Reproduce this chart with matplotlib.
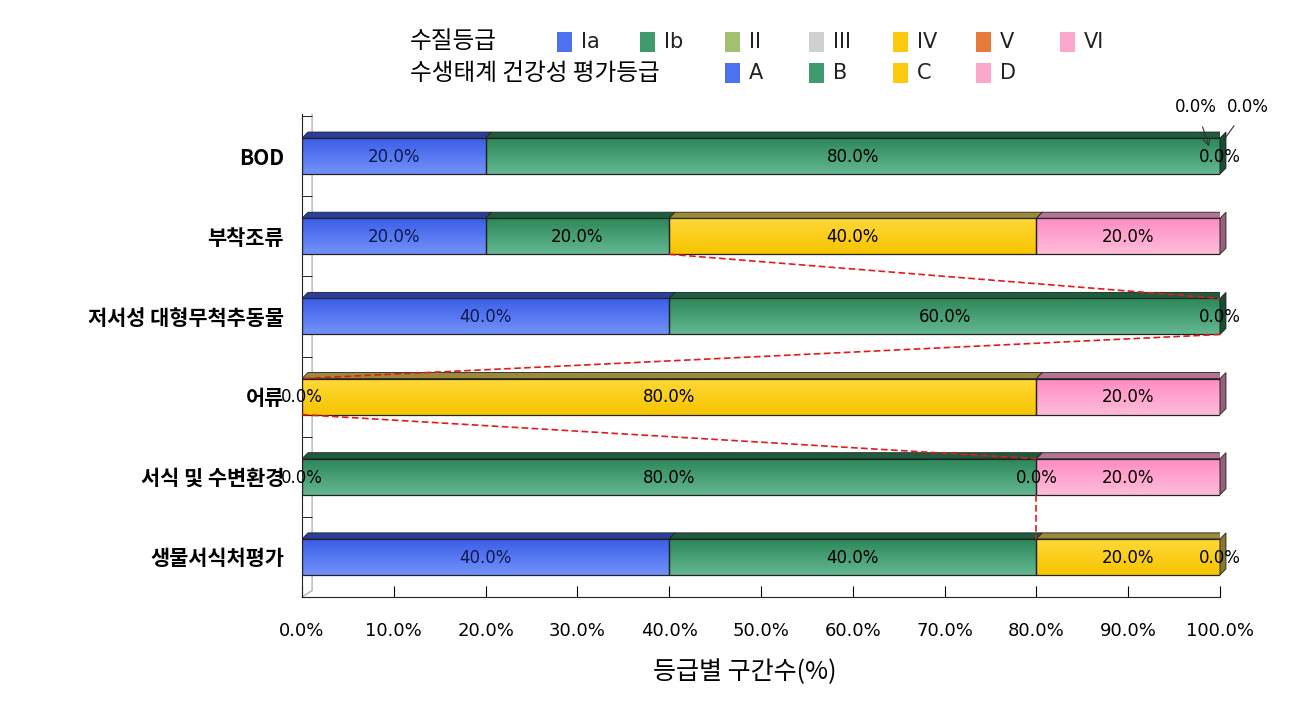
import numpy as np
import matplotlib.pyplot as plt
from matplotlib.patches import Polygon, Rectangle
from matplotlib.colors import LinearSegmentedColormap

plt.rcParams['font.family'] = ['Noto Sans CJK KR', 'DejaVu Sans']

W, H = 1313, 723

categories = ['BOD', '부착조류', '저서성 대형무척추동물', '어류', '서식 및 수변환경', '생물서식처평가']
# share of sections per grade (%): A/Ia, B/Ib, C/IV, D/VI
grade_a = [20, 20, 40, 0, 0, 40]
grade_b = [80, 20, 60, 0, 80, 40]
grade_c = [0, 40, 0, 80, 0, 20]
grade_d = [0, 20, 0, 20, 20, 0]
# zero-valued labels that the original shows: (row, series index)
zero_labels = [(0, 2), (2, 3), (3, 0), (4, 0), (4, 2), (5, 3)]

wq_grades = ['Ia', 'Ib', 'II', 'III', 'IV', 'V', 'VI']
eco_grades = ['A', 'B', 'C', 'D']

# gradient colours (top, bottom), top face, side face
styles = [
    ('#3a5ce6', '#7292fa', '#2a3f9c', '#22357f'),
    ('#2b8657', '#64b792', '#1d5c3c', '#184d32'),
    ('#ffd93a', '#f6c400', '#9c8a3a', '#8a7630'),
    ('#ff8cc2', '#ffbcda', '#b27396', '#955f7d'),
]
wq_colors = ['#4d72f0', '#3f9a6c', '#a3c070', '#cfcfcf', '#fcc810', '#e67a3a', '#fca8cc']
eco_colors = ['#4d72f0', '#3f9a6c', '#fcc810', '#fca8cc']
label_colors = ['#101850', 'black', 'black', 'black']

fig = plt.figure(figsize=(W / 100, H / 100), dpi=100)
ax = fig.add_axes([302 / W, 1 - 597 / H, 918 / W, 481 / H])
ax.set_xlim(0, 100)
ax.set_ylim(5.5, -0.5)

h = 0.45
dx, dy = 0.65, 0.075
series = np.array([grade_a, grade_b, grade_c, grade_d], dtype=float)
lefts = np.vstack([np.zeros(len(categories)), np.cumsum(series, axis=0)[:-1]])

# back wall
ax.plot([1.1, 1.1, 0], [-0.52, 5.42, 5.5], color='#b4b4b4', lw=1, clip_on=False, zorder=1)

for i in range(len(categories)):
    top = i - h / 2
    bot = i + h / 2
    for s in range(4):
        l, w = lefts[s, i], series[s, i]
        if w <= 0:
            continue
        c_top, c_bot, c_face, c_side = styles[s]
        cmap = LinearSegmentedColormap.from_list('g', [c_top, c_bot])
        grad = np.linspace(0, 1, 50).reshape(-1, 1)
        ax.imshow(grad, cmap=cmap, extent=(l, l + w, bot, top), aspect='auto',
                  origin='upper', zorder=2)
        ax.barh(i, w, left=l, height=h, facecolor='none', edgecolor='#222222', lw=0.9, zorder=3)
        ax.add_patch(Polygon([(l, top), (l + w, top), (l + w + dx, top - dy), (l + dx, top - dy)],
                             closed=True, facecolor=c_face, edgecolor='#222222', lw=0.6, zorder=3))
        ax.text(l + w / 2, i + 0.01, f'{w:.1f}%', ha='center', va='center',
                fontsize=12, color=label_colors[s], family='DejaVu Sans', zorder=5)
    # side face at the end of the bar
    last = max(s for s in range(4) if series[s, i] > 0)
    R = lefts[last, i] + series[last, i]
    ax.add_patch(Polygon([(R, top), (R + dx, top - dy), (R + dx, bot - dy), (R, bot)],
                         closed=True, facecolor=styles[last][3], edgecolor='#222222', lw=0.6,
                         zorder=3, clip_on=False))

for row, s in zero_labels:
    ax.text(lefts[s, row], row + 0.01, '0.0%', ha='center', va='center', fontsize=12,
            family='DejaVu Sans', zorder=5, clip_on=False)

# two more zero labels for BOD, drawn with leader arrows
ax.annotate('0.0%', xy=(98.8, -0.12), xytext=(97.4, -0.61), ha='center', va='center',
            fontsize=12, family='DejaVu Sans', annotation_clip=False,
            arrowprops=dict(arrowstyle='->', color='#333333', lw=0.8, shrinkA=6, shrinkB=0))
ax.annotate('0.0%', xy=(100.4, -0.2), xytext=(103.0, -0.61), ha='center', va='center',
            fontsize=12, family='DejaVu Sans', annotation_clip=False,
            arrowprops=dict(arrowstyle='-', color='#333333', lw=0.8, shrinkA=6, shrinkB=0))

# series lines following the end of grade B
edge_b = lefts[2]
for i in range(1, len(categories) - 1):
    ax.plot([edge_b[i], edge_b[i + 1]], [i + h / 2, i + 1 - h / 2], color='#e41a1a',
            lw=1.2, ls=(0, (4, 2)), zorder=4, clip_on=False)

ax.spines['top'].set_visible(False)
ax.spines['right'].set_visible(False)
ax.spines['left'].set_color('#222222')
ax.spines['bottom'].set_color('#222222')
ax.spines['left'].set_bounds(-0.52, 5.5)

ax.set_xticks(np.arange(0, 101, 10))
ax.set_xticklabels([f'{v:.1f}%' for v in np.arange(0, 101, 10)], fontsize=13, family='DejaVu Sans')
ax.tick_params(axis='x', direction='in', length=8, pad=18)
ax.set_yticks(range(len(categories)))
ax.set_yticklabels(categories, fontsize=15, fontweight='bold')
ax.tick_params(axis='y', length=0, pad=13)
ax.set_yticks(np.arange(-0.5, 5.6, 1), minor=True)
ax.tick_params(axis='y', which='minor', direction='in', length=7)

fig.text(745 / W, 1 - 672 / H, '등급별 구간수(%)', ha='center', va='center', fontsize=18)


def legend_row(title, names, colors, xs, yc):
    fig.text(410 / W, 1 - yc / H, title, ha='left', va='center', fontsize=17)
    for name, col, x in zip(names, colors, xs):
        fig.add_artist(Rectangle((x / W, 1 - (yc + 9.5) / H), 15 / W, 19 / H,
                                 transform=fig.transFigure, facecolor=col, edgecolor='none'))
        fig.text((x + 24) / W, 1 - yc / H, name, ha='left', va='center', fontsize=15,
                 family='DejaVu Sans', color='#222222')


legend_row('수질등급', wq_grades, wq_colors, [557, 640, 725, 809, 893, 976, 1060], 42)
legend_row('수생태계 건강성 평가등급', eco_grades, eco_colors, [725, 809, 893, 976], 73)

fig.savefig('out.png', dpi=100)
